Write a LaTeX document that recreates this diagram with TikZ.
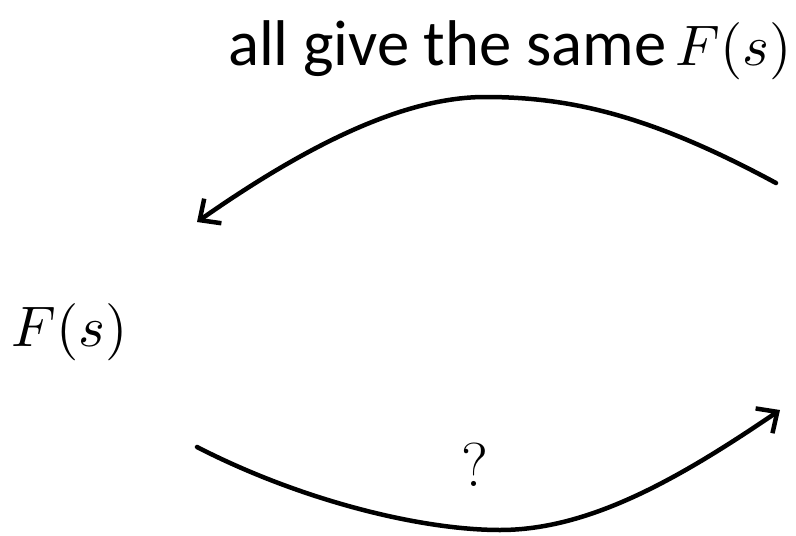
\documentclass[tikz,border=0pt]{standalone}
\usepackage{fontspec}
\setmainfont{Carlito}
\newfontfamily\lmr{Latin Modern Roman}
\usetikzlibrary{arrows.meta}
\tikzset{
  curvearrow/.style={line width=4.5pt, line cap=round, -{Straight Barb[length=16pt,width=30pt,line width=4.5pt]}},
  bigtext/.style={inner sep=0pt, font=\lmr\fontsize{62}{74}\selectfont},
  toptext/.style={inner sep=0pt, anchor=base west},
}
\newcommand{\bigF}{\resizebox{116pt}{!}{$F(s)$}}
\begin{document}
\begin{tikzpicture}[x=1pt,y=-1pt]
\useasboundingbox (0,0) rectangle (796,536);
\node[toptext] (title) at (228,65) {\resizebox{438pt}{!}{all give the same}\hspace{9pt}\bigF};
\node[inner sep=0pt] (F) at (70,332) {\bigF};
\node[bigtext, anchor=base] (q) at (475,486) {?};
\coordinate (tr) at (776,183);
\coordinate (tl) at (197,222);
\coordinate (bl) at (197,447);
\coordinate (br) at (780,410);
\draw[curvearrow] (tr) .. controls (650,115) and (570,97) .. (485,97) .. controls (400,97) and (300,150) .. (tl);
\draw[curvearrow] (bl) .. controls (300,500) and (420,530) .. (500,530) .. controls (590,530) and (680,478) .. (br);
\end{tikzpicture}
\end{document}
